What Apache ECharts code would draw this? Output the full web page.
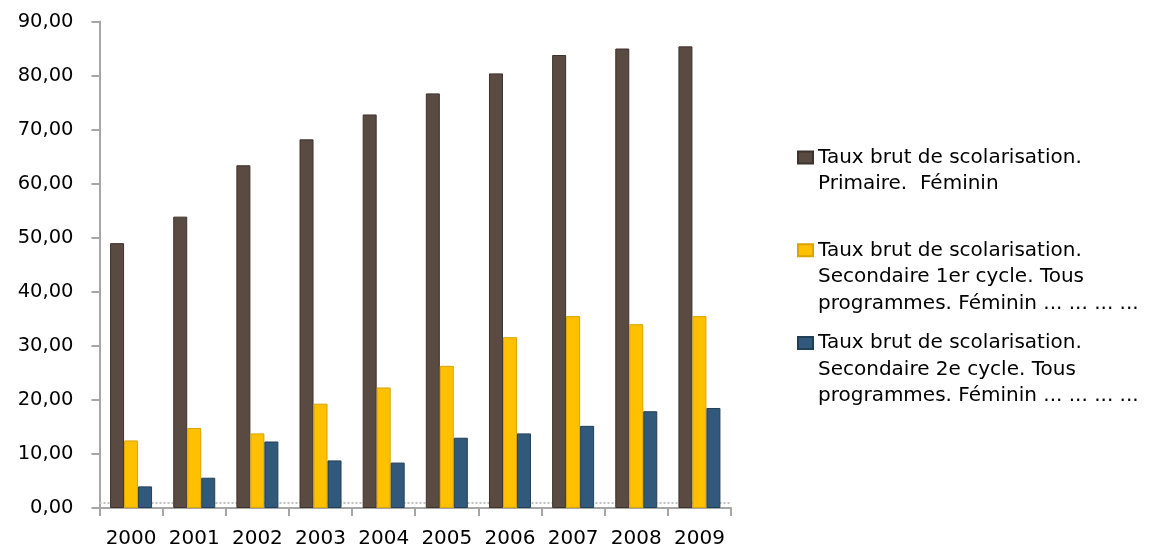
<!DOCTYPE html>
<html>
<head>
<meta charset="utf-8">
<script src="https://cdn.jsdelivr.net/npm/echarts@6/dist/echarts.min.js"></script>
<style>
html,body{margin:0;padding:0;background:#fff;}
#chart{width:1163px;height:549px;}
</style>
</head>
<body>
<div id="chart"></div>
<script>
// ---- data ----
const years = ['2000','2001','2002','2003','2004','2005','2006','2007','2008','2009'];
const primaire = [49.0, 53.9, 63.4, 68.2, 72.8, 76.7, 80.4, 83.8, 85.0, 85.4];
const secondaire1 = [12.5, 14.8, 13.8, 19.3, 22.3, 26.3, 31.6, 35.5, 34.0, 35.5];
const secondaire2 = [4.0, 5.6, 12.3, 8.8, 8.4, 13.0, 13.8, 15.2, 17.9, 18.5];
const yTickLabels = ['0,00','10,00','20,00','30,00','40,00','50,00','60,00','70,00','80,00','90,00'];
const seriesNames = [
  'Taux brut de scolarisation. Primaire.  Féminin',
  'Taux brut de scolarisation. Secondaire 1er cycle. Tous programmes. Féminin ... ... ... ...',
  'Taux brut de scolarisation. Secondaire 2e cycle. Tous programmes. Féminin ... ... ... ...'
];
const legendLines = [
  ['Taux brut de scolarisation.', 'Primaire.  Féminin', '\u00a0'],
  ['Taux brut de scolarisation.', 'Secondaire 1er cycle. Tous', 'programmes. Féminin ... ... ... ...'],
  ['Taux brut de scolarisation.', 'Secondaire 2e cycle. Tous', 'programmes. Féminin ... ... ... ...']
];

const colors = ['#594a42', '#ffc000', '#31597c'];
const borders = ['#3d322c', '#d9a300', '#223f58'];
const axisGrey = '#a6a6a6';
const font = 'DejaVu Sans';

const chart = echarts.init(document.getElementById('chart'), null, {renderer: 'canvas'});

const lineH = 26.5;
const legendTops = [157.5, 250.3, 343];
// two blank lines above so that the first text line sits level with the marker
const legends = seriesNames.map((n, i) => ({
  data: [n],
  orient: 'vertical',
  left: 797,
  top: legendTops[i] - 2.5 * lineH,
  padding: 0,
  itemWidth: 15,
  itemHeight: 12,
  icon: 'rect',
  selectedMode: false,
  formatter: () => ['\u00a0', '\u00a0'].concat(legendLines[i]).join('\n'),
  textStyle: {
    fontFamily: font,
    fontSize: 20,
    color: '#000',
    lineHeight: lineH
  }
}));

const makeSeries = (name, data, i) => ({
  name: name,
  type: 'bar',
  data: data,
  barWidth: 14,
  barGap: '0%',
  itemStyle: {color: colors[i], borderColor: borders[i], borderWidth: 1},
  emphasis: {disabled: true}
});

const series = [
  makeSeries(seriesNames[0], primaire, 0),
  makeSeries(seriesNames[1], secondaire1, 1),
  makeSeries(seriesNames[2], secondaire2, 2)
];
// faint dotted "floor" line of the original 3D chart
series[0].markLine = {
  silent: true,
  z: 1,
  symbol: 'none',
  label: {show: false},
  lineStyle: {color: '#c0c0c0', type: 'dotted', width: 2},
  data: [{yAxis: 1.0}]
};

chart.setOption({
  animation: false,
  backgroundColor: '#fff',
  color: colors,
  legend: legends,
  grid: {left: 99.5, right: 432, top: 21.5, bottom: 40.5, containLabel: false},
  xAxis: {
    type: 'category',
    data: years,
    axisLine: {lineStyle: {color: axisGrey, width: 2}},
    axisTick: {show: true, interval: 0, length: 8, lineStyle: {color: axisGrey, width: 2}},
    axisLabel: {interval: 0, fontFamily: font, fontSize: 20, color: '#000', margin: 21}
  },
  yAxis: {
    type: 'value',
    min: 0,
    max: 90,
    interval: 10,
    axisLine: {show: true, lineStyle: {color: axisGrey, width: 2}},
    axisTick: {show: true, length: 8, lineStyle: {color: axisGrey, width: 2}},
    splitLine: {show: false},
    axisLabel: {
      fontFamily: font, fontSize: 19.5, color: '#000', margin: 26,
      formatter: (v) => yTickLabels[Math.round(v / 10)]
    }
  },
  series: series
});
</script>
</body>
</html>
